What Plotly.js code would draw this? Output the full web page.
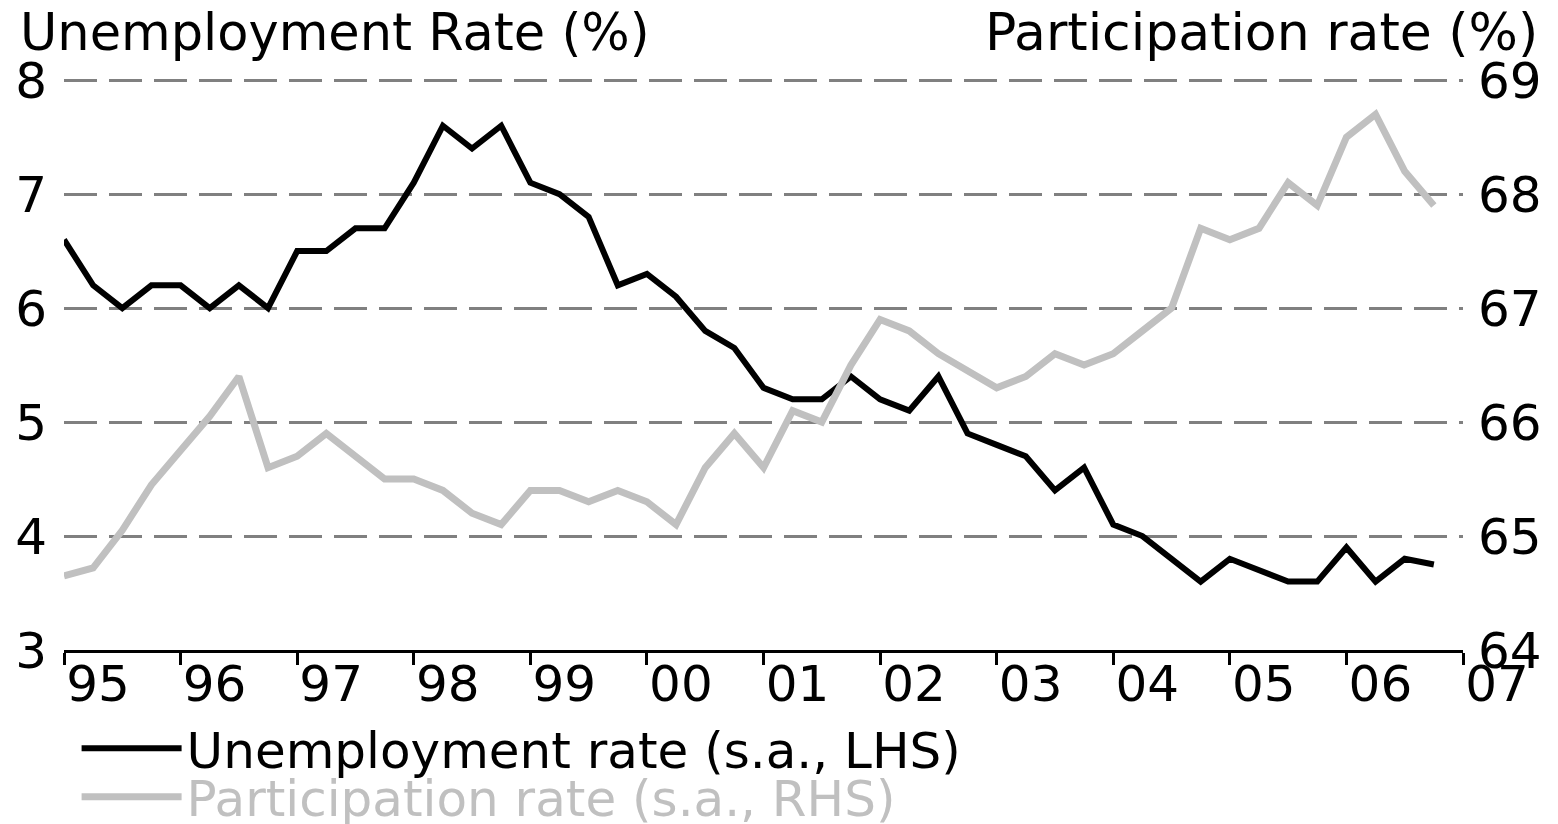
<!DOCTYPE html>
<html>
<head>
<meta charset="utf-8">
<script src="https://cdn.plot.ly/plotly-3.0.1.min.js"></script>
<style>html,body{margin:0;padding:0;background:#fff;}#chart{width:1558px;height:824px;}</style>
</head>
<body>
<div id="chart"></div>
<script>
// Quarterly observations, 1995Q1 .. 2006Q4
var quarters = [];
for (var yr = 1995; yr <= 2006; yr++) { for (var q = 0; q < 4; q++) { quarters.push(yr + q / 4); } }

var unemploymentRate = [6.6,6.2,6.0,6.2,6.2,6.0,6.2,6.0,6.5,6.5,6.7,6.7,7.1,7.6,7.4,7.6,
  7.1,7.0,6.8,6.2,6.3,6.1,5.8,5.65,5.3,5.2,5.2,5.4,5.2,5.1,5.4,4.9,
  4.8,4.7,4.4,4.6,4.1,4.0,3.8,3.6,3.8,3.7,3.6,3.6,3.9,3.6,3.8,3.75];

var participationRate = [64.65,64.72,65.05,65.45,65.75,66.05,66.4,65.6,65.7,65.9,65.7,65.5,65.5,65.4,65.2,65.1,
  65.4,65.4,65.3,65.4,65.3,65.1,65.6,65.9,65.6,66.1,66.0,66.5,66.9,66.8,66.6,66.45,
  66.3,66.4,66.6,66.5,66.6,66.8,67.0,67.7,67.6,67.7,68.1,67.9,68.5,68.7,68.2,67.9];

var yearTicks = [1995,1996,1997,1998,1999,2000,2001,2002,2003,2004,2005,2006,2007];
var yearLabels = ['95','96','97','98','99','00','01','02','03','04','05','06','07'];
var leftTicks = [3,4,5,6,7,8];
var rightTicks = [64,65,66,67,68,69];

var FONT = 'DejaVu Sans, Arial, sans-serif';

var traces = [
  {x: quarters, y: participationRate, yaxis: 'y2', type: 'scatter', mode: 'lines',
   name: 'Participation rate (s.a., RHS)', legend: 'legend2',
   line: {color: '#c0c0c0', width: 7}},
  {x: quarters, y: unemploymentRate, yaxis: 'y', type: 'scatter', mode: 'lines',
   name: 'Unemployment rate (s.a., LHS)', legend: 'legend',
   line: {color: '#000000', width: 6}}
];

var layout = {
  width: 1558, height: 824,
  margin: {l: 64, r: 95, t: 79, b: 174, autoexpand: false},
  paper_bgcolor: '#ffffff', plot_bgcolor: '#ffffff',
  showlegend: true,
  xaxis: {
    range: [1995, 2007], tickmode: 'array', tickvals: yearTicks, ticktext: yearLabels,
    showline: true, linecolor: '#000', linewidth: 3,
    ticks: 'outside', ticklen: 12, tickwidth: 3, tickcolor: '#000',
    showgrid: false, zeroline: false,
    tickfont: {family: FONT, size: 50, color: '#000'},
    ticklabelshift: 34, ticklabelstandoff: -24
  },
  yaxis: {
    range: [3, 8.01], tickmode: 'array', tickvals: leftTicks,
    showgrid: true, gridcolor: '#808080', gridwidth: 3, griddash: '33px,12px',
    zeroline: false, showline: false, ticks: '',
    tickfont: {family: FONT, size: 50, color: '#000'},
    ticklabelstandoff: 16
  },
  yaxis2: {
    range: [64, 69.01], tickmode: 'array', tickvals: rightTicks,
    overlaying: 'y', side: 'right',
    showgrid: false, zeroline: false, showline: false, ticks: '',
    tickfont: {family: FONT, size: 50, color: '#000'},
    ticklabelstandoff: 14
  },
  legend: {
    x: 0.009, xanchor: 'left', y: -0.172, yanchor: 'middle', orientation: 'v',
    font: {family: FONT, size: 50, color: '#000'}, itemwidth: 100,
    bgcolor: 'rgba(0,0,0,0)', borderwidth: 0
  },
  legend2: {
    x: 0.009, xanchor: 'left', y: -0.257, yanchor: 'middle', orientation: 'v',
    font: {family: FONT, size: 50, color: '#c0c0c0'}, itemwidth: 100,
    bgcolor: 'rgba(0,0,0,0)', borderwidth: 0
  },
  annotations: [
    {text: 'Unemployment Rate (%)', xref: 'paper', yref: 'paper', x: -0.033, y: 1,
     xanchor: 'left', yanchor: 'bottom', yshift: 15, showarrow: false,
     font: {family: FONT, size: 51, color: '#000'}},
    {text: 'Participation rate (%)', xref: 'paper', yref: 'paper', x: 1.055, y: 1,
     xanchor: 'right', yanchor: 'bottom', yshift: 15, showarrow: false,
     font: {family: FONT, size: 52, color: '#000'}}
  ]
};

Plotly.newPlot('chart', traces, layout, {displayModeBar: false, staticPlot: true});
</script>
</body>
</html>
